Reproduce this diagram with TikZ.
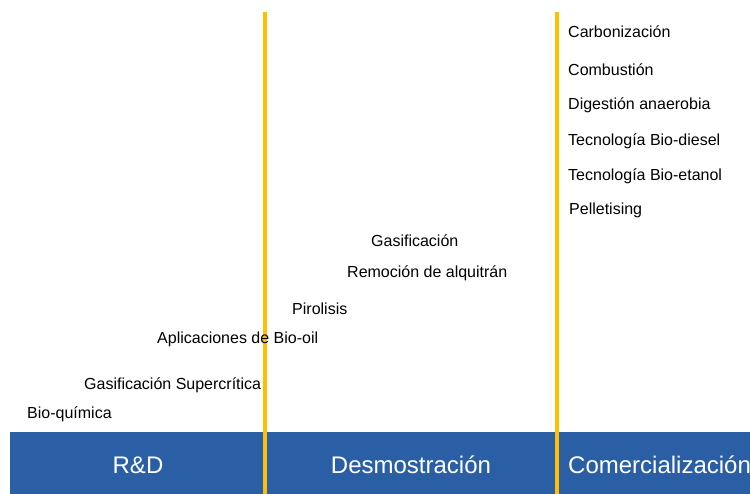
\documentclass[tikz,border=0pt]{standalone}
\usepackage{fontspec}
\setmainfont{Liberation Sans}
\usetikzlibrary{positioning}
\definecolor{barblue}{HTML}{2A5FA6}
\definecolor{stageyellow}{HTML}{FFC000}

\begin{document}
\begin{tikzpicture}[x=1pt,y=-1pt,
  tech/.style={anchor=west,inner sep=0pt,yshift=-1.5pt,font=\fontsize{16}{18}\selectfont},
  stage/.style={inner sep=0pt,text=white,font=\fontsize{24}{26}\selectfont},
  divider/.style={line width=4pt,stageyellow}]
 \useasboundingbox (0,0) rectangle (750,494);
 % stage bar
 \fill[barblue] (10,432) rectangle (750,494);
 \node[stage] (rd) at (138,465) {R\&D};
 \node[stage] (demo) at (411,465) {Desmostración};
 \node[stage,anchor=west] (comm) at (568,465) {Comercialización};
 % dividers
 \draw[divider] (265,12)--(265,494);
 \draw[divider] (557,12)--(557,494);
 % commercial technologies
 \foreach \y/\t [count=\i] in {30/Carbonización,68/Combustión,
   104/Digestión anaerobia,140/Tecnología Bio-diesel,
   175/Tecnología Bio-etanol}{
  \node[tech] (com\i) at (568,\y) {\t};
 }
 \node[tech] (com6) at (569,209) {Pelletising};
 % demonstration and research
 \node[tech] (gasif) at (371,239) {Gasificación};
 \node[tech] (tar) at (347,272) {Remoción de alquitrán};
 \node[tech] (pyro) at (292,307) {Pirolisis};
 \node[tech] (biooil) at (157,338) {Aplicaciones de Bio-oil};
 \node[tech] (scgas) at (84,384) {Gasificación Supercrítica};
 \node[tech] (biochem) at (27,413) {Bio-química};
\end{tikzpicture}
\end{document}
